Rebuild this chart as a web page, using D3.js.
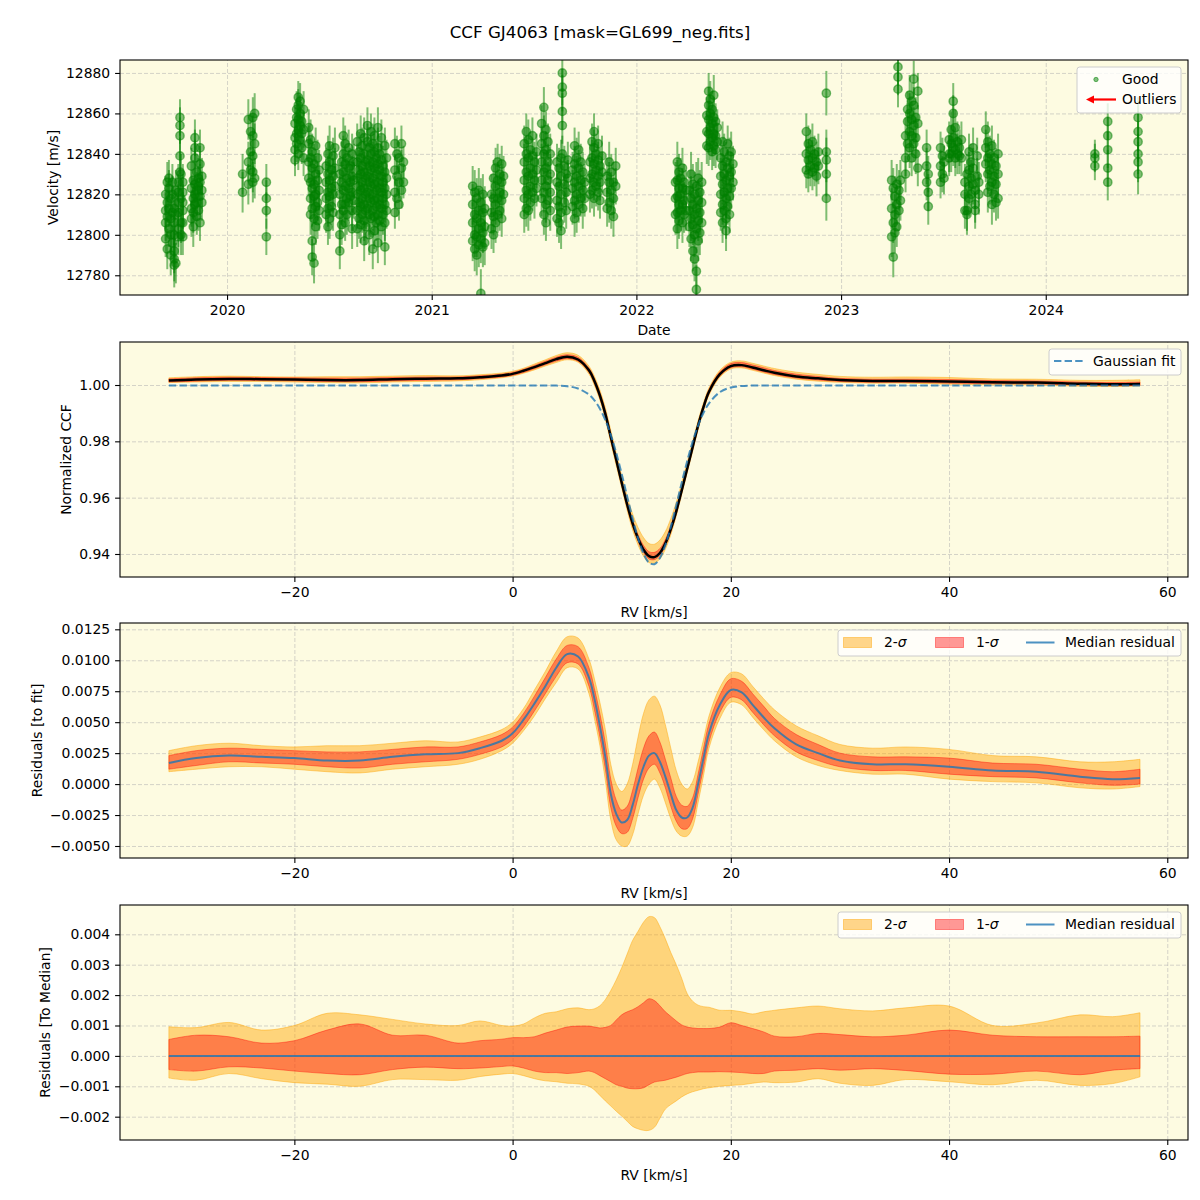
<!DOCTYPE html>
<html>
<head>
<meta charset="utf-8">
<script src="https://cdn.jsdelivr.net/npm/d3@7/dist/d3.min.js"></script>
<style>
  html,body{margin:0;padding:0;background:#fff;}
  svg text{font-family:"DejaVu Sans",Verdana,sans-serif;fill:#000;}
</style>
</head>
<body>
<svg id="chart" width="1200" height="1200"></svg>
<script>
// ================= DATA =================
// Top panel: observation epochs (decimal year), velocities at each epoch (m/s), error per epoch (m/s)
const obsDates = [
  2019.700,2019.708,2019.716,2019.725,2019.733,2019.742,2019.750,2019.762,2019.770,2019.775,2019.784,
  2019.826,2019.835,2019.843,2019.852,2019.860,2019.868,2019.877,
  2020.076,2020.104,2020.115,2020.126,2020.135,2020.192,
  2020.332,2020.340,2020.348,2020.357,2020.365,2020.374,
  2020.399,2020.408,2020.416,2020.425,2020.433,2020.442,2020.450,
  2020.484,2020.493,2020.501,2020.510,2020.518,2020.527,
  2020.551,2020.560,2020.568,2020.577,2020.585,2020.594,2020.602,2020.611,2020.619,
  2020.636,2020.645,2020.653,2020.661,2020.670,2020.678,2020.686,2020.695,2020.703,2020.712,2020.720,2020.729,2020.737,2020.745,2020.754,2020.762,2020.771,2020.779,
  2020.820,2020.830,2020.840,2020.852,2020.862,
  2021.200,2021.210,2021.220,2021.230,2021.240,2021.250,2021.259,
  2021.292,2021.302,2021.312,2021.322,2021.332,2021.342,2021.351,
  2021.452,2021.462,2021.472,2021.482,2021.492,2021.502,2021.512,
  2021.537,2021.548,2021.558,2021.568,2021.579,
  2021.612,2021.622,2021.632,2021.638,2021.648,2021.657,2021.665,
  2021.688,2021.698,2021.708,2021.718,2021.728,2021.738,2021.747,
  2021.773,2021.783,2021.793,2021.803,2021.813,2021.822,2021.832,
  2021.857,2021.867,2021.877,2021.888,2021.899,
  2022.191,2022.200,2022.208,2022.216,2022.225,2022.233,2022.242,
  2022.259,2022.267,2022.276,2022.284,2022.293,2022.302,2022.310,2022.319,
  2022.344,2022.353,2022.361,2022.370,2022.378,2022.387,2022.395,
  2022.412,2022.421,2022.429,2022.438,2022.446,2022.455,2022.463,2022.472,
  2022.830,2022.840,2022.850,2022.860,2022.870,2022.880,2022.889,
  2022.928,
  2023.247,2023.255,2023.263,2023.272,2023.278,2023.283,2023.290,
  2023.315,2023.325,2023.335,2023.345,2023.355,2023.365,2023.375,
  2023.418,2023.426,
  2023.486,2023.495,2023.503,
  2023.528,2023.538,2023.548,2023.558,2023.568,2023.578,2023.588,
  2023.605,2023.615,2023.625,2023.635,2023.645,2023.655,2023.665,2023.673,
  2023.707,2023.717,2023.727,2023.737,2023.747,2023.757,2023.767,
  2024.240,2024.303,2024.451
];
const obsVels = [
  [12820,12812,12806,12798],[12816,12826,12793,12809],[12823,12803,12813,12828],[12818,12808,12790,12800],[12826,12811,12796,12820],[12813,12806,12792,12788,12785,12800],[12822,12810,12786],[12821,12816,12811,12803,12799,12826],[12858,12854,12849,12839,12831],[12830,12818,12806,12800],[12826,12821,12812,12806,12799,12816],
  [12834,12823,12813,12808],[12827,12818,12811,12804],[12848,12843,12838,12825,12820,12815],[12831,12822,12816,12809],[12828,12824,12812],[12843,12835,12826,12819,12806],[12829,12822,12816],
  [12830,12821],[12857,12836,12825],[12851,12841,12832],[12858,12849,12839,12831,12826],[12860,12845,12828],[12826,12818,12812,12799],
  [12855,12848,12842,12837],[12862,12858,12850,12845],[12868,12864,12857,12852,12840],[12866,12860,12854,12847],[12856,12850,12843],[12862,12852,12838],
  [12853,12845,12836,12828],[12847,12838,12826,12818,12810],[12841,12833,12823,12813,12797,12789],[12835,12825,12819,12808,12786],[12844,12830,12820,12814,12804],[12838,12827,12816,12807],[12832,12822,12812],
  [12834,12826,12818,12810],[12840,12830,12821,12813,12804],[12844,12836,12827,12819,12808],[12832,12823,12814],[12839,12829,12820,12811],[12843,12833,12824],
  [12830,12820,12810,12800,12792],[12836,12826,12815,12805],[12849,12840,12831,12822,12812],[12845,12835,12824,12815,12806],[12838,12828,12818,12810],[12843,12833,12823,12816],[12834,12826,12819],[12840,12829,12821,12812,12803],[12836,12827,12817],
  [12846,12836,12828,12820,12812,12803],[12841,12832,12824,12816,12808],[12850,12838,12830,12822,12814,12805],[12844,12834,12826,12818,12810],[12848,12840,12831,12823,12815,12807,12797],[12836,12828,12820,12812,12804],[12854,12846,12837,12829,12821,12813],[12843,12834,12826,12818,12810,12800],[12851,12840,12832,12824,12816,12808],[12845,12836,12828,12820,12812,12793],[12849,12841,12833,12825,12817,12809,12802],[12838,12830,12822,12814,12806],[12853,12843,12835,12826,12818,12810,12796],[12840,12832,12823,12815,12807],[12848,12837,12829,12821,12813,12804],[12834,12826,12818,12810],[12844,12831,12823,12815,12806,12794],[12838,12828,12820,12812],
  [12845,12832,12821,12811],[12840,12829,12818],[12838,12826,12815],[12845,12833,12822],[12836,12826],
  [12824,12815,12806,12797],[12821,12810,12800,12793],[12818,12808,12799,12790],[12822,12812,12803,12795],[12816,12806,12798,12771],[12820,12811,12801,12794],[12813,12804,12796],
  [12820,12811,12803],[12828,12818,12809,12800],[12833,12824,12815,12806],[12836,12827,12818,12810],[12830,12821,12812],[12835,12826,12817,12808],[12829,12820],
  [12845,12836,12827,12818,12810],[12851,12840,12831,12822,12813],[12847,12838,12829,12820,12812],[12842,12833,12824,12816],[12849,12839,12830,12821],[12836,12827,12818],[12841,12832,12823],
  [12855,12845,12836,12827,12818],[12863,12849,12840,12831,12821,12810],[12852,12842,12833,12824,12815,12806],[12846,12836,12827,12817],[12840,12830,12821,12812],
  [12836,12826,12817,12808],[12833,12824,12814,12806],[12838,12829,12820,12811,12802],[12880,12873,12870,12861,12854,12840],[12834,12825,12816],[12830,12821,12812],[12837,12828],
  [12832,12823,12814],[12844,12835,12826,12817,12808],[12838,12829,12820,12811],[12842,12833,12824,12815],[12836,12827,12818],[12831,12822,12813],[12826,12818],
  [12836,12828,12820],[12846,12838,12830,12822],[12851,12843,12835,12826,12818],[12840,12832,12824],[12845,12837,12829,12821],[12834,12826,12817],[12839,12831],
  [12829,12821,12813],[12836,12826,12816],[12831,12822,12812],[12826,12818,12809],[12834,12824],
  [12826,12818,12810],[12836,12827,12819,12811,12803],[12831,12823,12815,12807],[12828,12820,12812],[12833,12823,12815,12806],[12826,12817,12810],[12822,12812],
  [12822,12812,12804],[12830,12818,12808,12798],[12825,12815,12805,12792],[12820,12810,12800,12788],[12824,12813,12803,12782,12773],[12828,12817,12807,12797],[12821,12811,12801],[12826,12816,12806],
  [12859,12851,12844],[12871,12864,12857,12850,12843],[12867,12860,12853,12846],[12862,12855,12848,12841],[12869,12858,12850,12844],[12856,12849,12842],[12853,12846],
  [12838,12829,12820,12811],[12846,12834,12825,12815,12806],[12841,12830,12821,12812],[12836,12827,12818,12808,12802],[12845,12833,12823,12814],[12839,12829,12819,12810],[12841,12831,12823],[12835,12826],
  [12851,12840,12832],[12845,12837,12830],[12842,12834],[12846,12838,12831],[12840,12833],[12836,12829],[12841,12834],
  [12870,12841,12837,12830,12818],
  [12827,12813,12799],[12823,12806,12789],[12819,12810,12801],[12825,12815,12804],[12883,12878,12872],[12822,12812],[12827,12817],
  [12849,12838,12830],[12862,12856,12845],[12869,12860,12851,12843],[12866,12857,12849,12838],[12877,12864,12854,12845],[12858,12848,12840],[12871,12855,12833],
  [12843,12834,12826],[12821,12814,12830],
  [12843,12834,12826],[12839,12830],[12836,12828],
  [12840,12847,12838],[12852,12845,12840],[12866,12860,12848,12843],[12853,12842,12838],[12846,12840],[12839,12843],[12847,12838],
  [12826,12820,12812],[12830,12812,12810],[12841,12832,12824,12818],[12836,12828,12820],[12843,12833,12825],[12822,12815,12812],[12839,12829],[12826,12820],
  [12852,12843,12835],[12846,12838,12830,12821],[12840,12832,12824],[12844,12835,12826,12815],[12838,12829,12820],[12834,12825,12816],[12840,12830,12818],
  [12840,12838,12834],[12856,12849,12842,12833,12826],[12858,12851,12846,12840,12836,12830]
];
const obsErrs = [
  9,10,9,10,9,11,10,9,9,10,9,
  9,10,9,9,10,9,9,
  10,10,9,10,10,9,
  8,9,8,9,8,9,
  9,10,9,10,9,9,10,
  9,9,10,9,9,10,
  9,10,9,9,10,9,9,10,9,
  9,10,9,9,10,9,9,10,9,10,9,9,10,9,9,10,9,9,
  8,9,8,9,8,
  10,11,10,11,12,10,11,
  10,9,10,9,10,9,10,
  9,9,10,9,9,10,9,
  9,10,9,9,10,
  9,10,9,9,10,9,9,
  9,9,10,9,9,10,9,
  9,9,9,10,9,9,10,
  9,10,9,10,9,
  10,10,9,10,10,9,10,
  10,11,10,11,12,10,11,10,
  9,9,9,9,10,9,9,
  9,10,9,10,9,9,10,9,
  9,9,10,9,9,10,9,
  11,
  10,10,10,10,9,10,10,
  9,9,10,9,9,10,9,
  9,9,
  8,9,8,
  9,9,9,9,10,9,9,
  9,10,9,9,10,9,9,10,
  9,10,9,10,9,9,10,
  7,9,10
];
const outlierDates = [];
const outlierVels = [];

// RV grid (km/s) shared by the three CCF panels
const rvGrid = [-31.5,-29,-26,-23,-20,-17,-14,-11,-8,-5,-3,-1,0,1,2,3,4,5,6,
  7,7.5,8,8.5,9,9.5,10,10.5,11,11.5,12,12.5,13,13.5,14,14.5,15,15.5,16,16.5,17,17.5,18,
  19,20,21,22,23,24,26,28,30,33,36,40,44,48,52,55,57.5];
// Normalized CCF (median) and Gaussian fit
const ccfMedian = [1.00156,1.00196,1.00216,1.00206,1.00196,1.00176,1.00176,1.00206,1.00226,1.00236,1.00276,1.00336,1.00396,1.00506,1.00636,1.00775,1.00919,1.01006,1.00907,
  1.00520,1.00146,0.99629,0.98976,0.98151,0.97345,0.96534,0.95756,0.95091,0.94556,0.94153,0.93923,0.93888,0.94036,0.94376,0.94885,0.95516,0.96259,0.97026,0.97795,0.98560,0.99223,0.99760,
  1.00387,1.00671,1.00706,1.00622,1.00526,1.00436,1.00306,1.00236,1.00176,1.00146,1.00146,1.00126,1.00096,1.00086,1.00046,1.00026,1.00036];
const gaussFit = [0.99986,0.99986,0.99986,0.99986,0.99986,0.99986,0.99986,0.99986,0.99986,0.99986,0.99986,0.99986,0.99986,0.99986,0.99986,0.99985,0.99979,0.99956,0.99877,
  0.99660,0.99456,0.99159,0.98756,0.98231,0.97585,0.96844,0.96046,0.95261,0.94556,0.94013,0.93693,0.93638,0.93856,0.94316,0.94965,0.95726,0.96529,0.97296,0.97985,0.98560,0.99013,0.99350,
  0.99747,0.99911,0.99966,0.99982,0.99986,0.99986,0.99986,0.99986,0.99986,0.99986,0.99986,0.99986,0.99986,0.99986,0.99986,0.99986,0.99986];
// Residuals to fit: median, 1-sigma and 2-sigma envelopes
const resMedian = [0.0017,0.0021,0.0023,0.0022,0.0021,0.0019,0.0019,0.0022,0.0024,0.0025,0.0029,0.0035,0.0041,0.0052,0.0065,0.0079,0.0094,0.0105,0.0103,
  0.0086,0.0069,0.0047,0.0022,-0.0008,-0.0024,-0.0031,-0.0029,-0.0017,0.0000,0.0014,0.0023,0.0025,0.0018,0.0006,-0.0008,-0.0021,-0.0027,-0.0027,-0.0019,0.0000,0.0021,0.0041,
  0.0064,0.0076,0.0074,0.0064,0.0054,0.0045,0.0032,0.0025,0.0019,0.0016,0.0016,0.0014,0.0011,0.0010,0.0006,0.0004,0.0005];
const res1Lo = [0.0012,0.0015,0.0018,0.0017,0.0016,0.0014,0.0013,0.0016,0.0018,0.0020,0.0024,0.0030,0.0036,0.0046,0.0059,0.0073,0.0087,0.0098,0.0097,
  0.0079,0.0060,0.0038,0.0012,-0.0019,-0.0034,-0.0040,-0.0039,-0.0028,-0.0011,0.0004,0.0013,0.0016,0.0009,-0.0003,-0.0018,-0.0030,-0.0036,-0.0036,-0.0028,-0.0008,0.0013,0.0034,
  0.0058,0.0070,0.0068,0.0058,0.0048,0.0039,0.0026,0.0019,0.0014,0.0011,0.0011,0.0008,0.0006,0.0005,0.0001,-0.0001,0.0000];
const res1Hi = [0.0023,0.0027,0.0029,0.0028,0.0027,0.0026,0.0026,0.0028,0.0030,0.0030,0.0034,0.0040,0.0046,0.0057,0.0071,0.0086,0.0101,0.0112,0.0111,
  0.0094,0.0077,0.0057,0.0033,0.0004,-0.0013,-0.0021,-0.0018,-0.0005,0.0013,0.0029,0.0039,0.0042,0.0034,0.0020,0.0005,-0.0010,-0.0017,-0.0018,-0.0011,0.0008,0.0029,0.0049,
  0.0072,0.0085,0.0083,0.0073,0.0063,0.0053,0.0040,0.0032,0.0025,0.0022,0.0022,0.0021,0.0017,0.0016,0.0012,0.0010,0.0012];
const res2Lo = [0.0010,0.0012,0.0014,0.0014,0.0012,0.0010,0.0009,0.0012,0.0014,0.0016,0.0020,0.0027,0.0033,0.0043,0.0055,0.0069,0.0082,0.0094,0.0093,
  0.0073,0.0053,0.0031,0.0003,-0.0029,-0.0045,-0.0050,-0.0050,-0.0041,-0.0024,-0.0009,0.0000,0.0004,-0.0003,-0.0015,-0.0028,-0.0038,-0.0042,-0.0042,-0.0035,-0.0015,0.0007,0.0029,
  0.0053,0.0066,0.0064,0.0054,0.0044,0.0035,0.0022,0.0015,0.0011,0.0008,0.0008,0.0004,0.0002,0.0001,-0.0003,-0.0004,-0.0002];
const res2Hi = [0.0027,0.0031,0.0033,0.0031,0.0030,0.0031,0.0031,0.0033,0.0035,0.0034,0.0038,0.0044,0.0050,0.0061,0.0076,0.0091,0.0107,0.0119,0.0118,
  0.0101,0.0085,0.0066,0.0044,0.0016,0.0000,-0.0006,0.0000,0.0016,0.0038,0.0057,0.0068,0.0071,0.0064,0.0048,0.0029,0.0011,0.0000,-0.0004,0.0002,0.0018,0.0036,0.0055,
  0.0078,0.0090,0.0089,0.0079,0.0069,0.0060,0.0047,0.0039,0.0032,0.0029,0.0030,0.0028,0.0023,0.0022,0.0018,0.0018,0.0020];
// Residuals to median: 1-sigma and 2-sigma envelopes (median is zero)
const dev1Lo = [-0.00045,-0.00050,-0.00036,-0.00040,-0.00050,-0.00058,-0.00062,-0.00045,-0.00037,-0.00042,-0.00040,-0.00035,-0.00033,-0.00040,-0.00050,-0.00055,-0.00055,-0.00058,-0.00055,
  -0.00050,-0.00055,-0.00065,-0.00075,-0.00085,-0.00095,-0.00100,-0.00106,-0.00108,-0.00108,-0.00105,-0.00095,-0.00086,-0.00083,-0.00080,-0.00075,-0.00070,-0.00064,-0.00058,-0.00055,-0.00053,-0.00053,-0.00053,
  -0.00052,-0.00053,-0.00055,-0.00058,-0.00058,-0.00050,-0.00047,-0.00042,-0.00047,-0.00042,-0.00048,-0.00060,-0.00060,-0.00050,-0.00062,-0.00047,-0.00042];
const dev1Hi = [0.00054,0.00068,0.00063,0.00042,0.00050,0.00085,0.00105,0.00068,0.00068,0.00042,0.00050,0.00055,0.00060,0.00060,0.00063,0.00075,0.00085,0.00095,0.00098,
  0.00098,0.00095,0.00092,0.00094,0.00100,0.00118,0.00135,0.00145,0.00152,0.00162,0.00175,0.00188,0.00182,0.00165,0.00145,0.00130,0.00115,0.00102,0.00095,0.00092,0.00090,0.00090,0.00090,
  0.00095,0.00109,0.00100,0.00090,0.00079,0.00065,0.00063,0.00074,0.00070,0.00063,0.00068,0.00085,0.00068,0.00063,0.00063,0.00063,0.00065];
const dev2Lo = [-0.00073,-0.00080,-0.00058,-0.00075,-0.00088,-0.00093,-0.00100,-0.00078,-0.00078,-0.00080,-0.00068,-0.00060,-0.00058,-0.00065,-0.00075,-0.00082,-0.00085,-0.00090,-0.00092,
  -0.00100,-0.00112,-0.00130,-0.00148,-0.00165,-0.00182,-0.00198,-0.00215,-0.00232,-0.00240,-0.00245,-0.00245,-0.00235,-0.00205,-0.00175,-0.00160,-0.00148,-0.00135,-0.00125,-0.00118,-0.00113,-0.00108,-0.00105,
  -0.00100,-0.00097,-0.00095,-0.00090,-0.00086,-0.00088,-0.00086,-0.00075,-0.00090,-0.00097,-0.00078,-0.00085,-0.00095,-0.00080,-0.00097,-0.00091,-0.00069];
const dev2Hi = [0.00096,0.00093,0.00110,0.00085,0.00100,0.00140,0.00135,0.00120,0.00105,0.00100,0.00115,0.00100,0.00098,0.00105,0.00125,0.00140,0.00145,0.00155,0.00158,
  0.00152,0.00155,0.00165,0.00185,0.00215,0.00250,0.00290,0.00335,0.00380,0.00410,0.00440,0.00458,0.00455,0.00425,0.00385,0.00340,0.00300,0.00255,0.00205,0.00180,0.00167,0.00162,0.00160,
  0.00150,0.00150,0.00145,0.00138,0.00145,0.00150,0.00158,0.00164,0.00155,0.00148,0.00158,0.00164,0.00100,0.00108,0.00135,0.00129,0.00142];

// Ticks
const yearTicks = [2020,2021,2022,2023,2024];
const velTicks = [12780,12800,12820,12840,12860,12880];
const rvTicks = [-20,0,20,40,60];
const ccfTicks = [0.94,0.96,0.98,1.00];
const resTicks = [-0.005,-0.0025,0,0.0025,0.005,0.0075,0.01,0.0125];
const devTicks = [-0.002,-0.001,0,0.001,0.002,0.003,0.004];

// ================= LAYOUT / STYLE =================
const AX_L = 120, AX_R = 1188;
const PANELS = [[60,295],[342,577],[623,858],[905,1140]];
const BG = "#fdfbe1";
const FS = 13.9;
const ORANGE = "#ffa500", RED = "#ff0000", TBLUE = "#1f77b4", GREEN = "#008000";

const svg = d3.select("#chart");
svg.append("rect").attr("width",1200).attr("height",1200).attr("fill","#fff");
svg.append("text").attr("x",600).attr("y",38).attr("text-anchor","middle")
  .attr("font-size",16.7).text("CCF GJ4063 [mask=GL699_neg.fits]");
const defs = svg.append("defs");

function panel(idx, xDomain, yDomain, xTicks, yTicks, xFmt, yFmt, xLabel, yLabel, yLabelX){
  const [top,bottom] = PANELS[idx];
  const x = d3.scaleLinear().domain(xDomain).range([AX_L,AX_R]);
  const y = d3.scaleLinear().domain(yDomain).range([bottom,top]);
  const g = svg.append("g");
  g.append("rect").attr("x",AX_L).attr("y",top).attr("width",AX_R-AX_L).attr("height",bottom-top).attr("fill",BG);
  const styleGrid = s => { s.select(".domain").remove();
    s.selectAll(".tick line").attr("stroke","#b0b0b0").attr("stroke-opacity",0.6)
      .attr("stroke-dasharray","4,2").attr("stroke-width",0.9); };
  g.append("g").attr("transform",`translate(0,${bottom})`)
    .call(d3.axisBottom(x).tickValues(xTicks).tickSize(-(bottom-top)).tickFormat("")).call(styleGrid);
  g.append("g").attr("transform",`translate(${AX_L},0)`)
    .call(d3.axisLeft(y).tickValues(yTicks).tickSize(-(AX_R-AX_L)).tickFormat("")).call(styleGrid);
  defs.append("clipPath").attr("id","clip"+idx).append("rect")
    .attr("x",AX_L).attr("y",top).attr("width",AX_R-AX_L).attr("height",bottom-top);
  const plot = g.append("g").attr("clip-path",`url(#clip${idx})`);
  function finish(){
    const styleAxis = s => { s.select(".domain").remove();
      s.selectAll(".tick line").attr("stroke","#000").attr("stroke-width",1.1);
      s.selectAll(".tick text").attr("font-size",FS).attr("font-family","DejaVu Sans, sans-serif").attr("fill","#000"); };
    g.append("g").attr("transform",`translate(0,${bottom})`)
      .call(d3.axisBottom(x).tickValues(xTicks).tickFormat(xFmt).tickSize(4.9).tickPadding(4.9)).call(styleAxis);
    g.append("g").attr("transform",`translate(${AX_L},0)`)
      .call(d3.axisLeft(y).tickValues(yTicks).tickFormat(yFmt).tickSize(4.9).tickPadding(4.9)).call(styleAxis);
    g.append("rect").attr("x",AX_L).attr("y",top).attr("width",AX_R-AX_L).attr("height",bottom-top)
      .attr("fill","none").attr("stroke","#000").attr("stroke-width",1.1);
    g.append("text").attr("x",(AX_L+AX_R)/2).attr("y",bottom+40).attr("text-anchor","middle")
      .attr("font-size",FS).text(xLabel);
    g.append("text").attr("transform",`translate(${yLabelX},${(top+bottom)/2}) rotate(-90)`)
      .attr("text-anchor","middle").attr("dy","0.35em").attr("font-size",FS).text(yLabel);
  }
  return {x,y,g,plot,top,bottom,finish};
}

function legendBox(g,x,y,w,h){
  g.append("rect").attr("x",x).attr("y",y).attr("width",w).attr("height",h).attr("rx",2.8)
    .attr("fill","#fff").attr("fill-opacity",0.8).attr("stroke","#cccccc").attr("stroke-width",1);
}

// ================= PANEL 1: velocities =================
const p1 = panel(0,[2019.477,2024.695],[12770.25,12886.4],yearTicks,velTicks,d3.format("d"),d3.format("d"),"Date","Velocity [m/s]",53);
const pts = [];
obsDates.forEach((d,i)=>{ (obsVels[i]||[]).forEach(v=>pts.push({d:d,v:v,e:obsErrs[i]||9})); });
p1.plot.append("g").selectAll("line").data(pts).join("line")
  .attr("x1",p=>p1.x(p.d)).attr("x2",p=>p1.x(p.d))
  .attr("y1",p=>p1.y(p.v-p.e)).attr("y2",p=>p1.y(p.v+p.e))
  .attr("stroke",GREEN).attr("stroke-opacity",0.5).attr("stroke-width",2);
p1.plot.append("g").selectAll("circle").data(pts).join("circle")
  .attr("cx",p=>p1.x(p.d)).attr("cy",p=>p1.y(p.v)).attr("r",4.2)
  .attr("fill",GREEN).attr("fill-opacity",0.5)
  .attr("stroke",GREEN).attr("stroke-opacity",0.5).attr("stroke-width",1.4);
p1.plot.append("g").selectAll("path").data(outlierDates.map((d,i)=>({d:d,v:outlierVels[i]}))).join("path")
  .attr("d",p=>`M${p1.x(p.d)},${p1.y(p.v)}l8,-4v8z`).attr("fill",RED);
p1.finish();
{
  const lg = p1.g.append("g");
  legendBox(lg,1077,67,104,46);
  lg.append("circle").attr("cx",1096).attr("cy",79.5).attr("r",2.2).attr("fill",GREEN).attr("fill-opacity",0.5)
    .attr("stroke",GREEN).attr("stroke-opacity",0.5).attr("stroke-width",1);
  lg.append("text").attr("x",1122).attr("y",79.5).attr("dy","0.35em").attr("font-size",FS).text("Good");
  lg.append("line").attr("x1",1116).attr("x2",1092).attr("y1",99.5).attr("y2",99.5).attr("stroke",RED).attr("stroke-width",2.2);
  lg.append("path").attr("d","M1086,99.5L1094,95.5L1094,103.5Z").attr("fill",RED);
  lg.append("text").attr("x",1122).attr("y",99.5).attr("dy","0.35em").attr("font-size",FS).text("Outliers");
}

// ================= PANEL 2: CCF =================
const rvDom = [-35.98,61.9];
const fmtRV = d3.format("d");
const p2 = panel(1,rvDom,[0.93183,1.01527],rvTicks,ccfTicks,fmtRV,d3.format(".2f"),"RV [km/s]","Normalized CCF",66);
const curve = d3.curveCatmullRom.alpha(0.5);
function band(p, lo, hi, color, op){
  const a = d3.area().curve(curve).x((d,i)=>p.x(rvGrid[i])).y0((d,i)=>p.y(lo[i])).y1((d,i)=>p.y(hi[i]));
  p.plot.append("path").attr("d",a(rvGrid)).attr("fill",color).attr("fill-opacity",op)
    .attr("stroke",color).attr("stroke-opacity",op).attr("stroke-width",1);
}
function line(p, vals, color, width, op, dash){
  const l = d3.line().curve(curve).x((d,i)=>p.x(rvGrid[i])).y((d,i)=>p.y(vals[i]));
  const path = p.plot.append("path").attr("d",l(rvGrid)).attr("fill","none").attr("stroke",color)
    .attr("stroke-width",width).attr("stroke-opacity",op).attr("stroke-linejoin","round");
  if(dash) path.attr("stroke-dasharray",dash);
}
band(p2, rvGrid.map((r,i)=>gaussFit[i]+res2Lo[i]), rvGrid.map((r,i)=>gaussFit[i]+res2Hi[i]), ORANGE, 0.45);
band(p2, rvGrid.map((r,i)=>gaussFit[i]+res1Lo[i]), rvGrid.map((r,i)=>gaussFit[i]+res1Hi[i]), RED, 0.4);
line(p2, ccfMedian, "#000", 2.5, 1);
line(p2, gaussFit, TBLUE, 2, 0.8, "7.4,3.2");
p2.finish();
{
  const lg = p2.g.append("g");
  legendBox(lg,1049,349,132,26);
  lg.append("line").attr("x1",1054).attr("x2",1083).attr("y1",361).attr("y2",361)
    .attr("stroke",TBLUE).attr("stroke-opacity",0.8).attr("stroke-width",2).attr("stroke-dasharray","7.4,3.2");
  lg.append("text").attr("x",1093).attr("y",361).attr("dy","0.35em").attr("font-size",FS).text("Gaussian fit");
}

// ================= PANEL 3: residuals to fit =================
function sigmaLegend(p, yTop){
  const lg = p.g.append("g");
  legendBox(lg,838,yTop,343,26);
  const cy = yTop+12.5;
  lg.append("rect").attr("x",843.5).attr("y",cy-5).attr("width",28).attr("height",10)
    .attr("fill",ORANGE).attr("fill-opacity",0.45).attr("stroke",ORANGE).attr("stroke-opacity",0.45);
  const t1 = lg.append("text").attr("x",884).attr("y",cy).attr("dy","0.35em").attr("font-size",FS);
  t1.append("tspan").text("2-"); t1.append("tspan").attr("font-style","italic").text("σ");
  lg.append("rect").attr("x",935.5).attr("y",cy-5).attr("width",28).attr("height",10)
    .attr("fill",RED).attr("fill-opacity",0.4).attr("stroke",RED).attr("stroke-opacity",0.4);
  const t2 = lg.append("text").attr("x",976).attr("y",cy).attr("dy","0.35em").attr("font-size",FS);
  t2.append("tspan").text("1-"); t2.append("tspan").attr("font-style","italic").text("σ");
  lg.append("line").attr("x1",1026).attr("x2",1054.5).attr("y1",cy).attr("y2",cy)
    .attr("stroke",TBLUE).attr("stroke-opacity",0.8).attr("stroke-width",2);
  lg.append("text").attr("x",1065).attr("y",cy).attr("dy","0.35em").attr("font-size",FS).text("Median residual");
}
const p3 = panel(2,rvDom,[-0.00597,0.01301],rvTicks,resTicks,fmtRV,d3.format(".4f"),"RV [km/s]","Residuals [to fit]",37);
band(p3,res2Lo,res2Hi,ORANGE,0.45);
band(p3,res1Lo,res1Hi,RED,0.4);
line(p3,resMedian,TBLUE,2,0.8);
p3.finish();
sigmaLegend(p3,630);

// ================= PANEL 4: residuals to median =================
const p4 = panel(3,rvDom,[-0.002767,0.004964],rvTicks,devTicks,fmtRV,d3.format(".3f"),"RV [km/s]","Residuals [To Median]",45);
band(p4,dev2Lo,dev2Hi,ORANGE,0.45);
band(p4,dev1Lo,dev1Hi,RED,0.4);
p4.plot.append("line").attr("x1",p4.x(rvGrid[0])).attr("x2",p4.x(rvGrid[rvGrid.length-1]))
  .attr("y1",p4.y(0)).attr("y2",p4.y(0)).attr("stroke",TBLUE).attr("stroke-opacity",0.8).attr("stroke-width",2);
p4.finish();
sigmaLegend(p4,912);
</script>
</body>
</html>
